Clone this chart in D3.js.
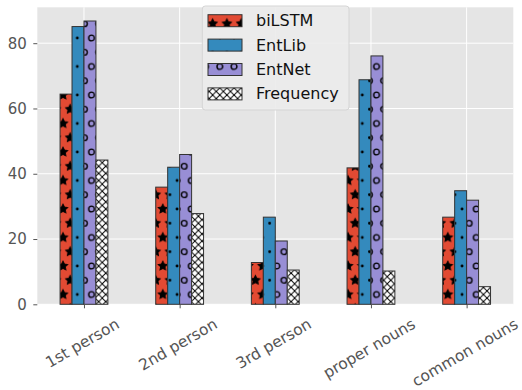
<!DOCTYPE html>
<html><head><meta charset="utf-8">
<script src="https://cdn.jsdelivr.net/npm/d3@7/dist/d3.min.js"></script>
<style>body{margin:0;background:#fff}svg{display:block}</style>
</head><body>
<svg id="c" width="522" height="390"></svg>
<script>
const categories = ["1st person", "2nd person", "3rd person", "proper nouns", "common nouns"];
const seriesNames = ["biLSTM", "EntLib", "EntNet", "Frequency"];
const biLSTM    = [64.4, 35.9, 12.8, 41.8, 26.7];
const EntLib    = [85.1, 42.0, 26.7, 68.8, 34.8];
const EntNet    = [86.8, 45.9, 19.4, 76.1, 31.9];
const Frequency = [44.2, 27.8, 10.5, 10.2, 5.4];
const yTicks = [0, 20, 40, 60, 80];

const seriesValues = [biLSTM, EntLib, EntNet, Frequency];
const colors = ["#E24A33", "#348ABD", "#988ED5", "#FFFFFF"];
const hatchIds = ["hStar", "hDot", "hCirc", "hCross"];

const svg = d3.select("#c");
const L = 37.3, R = 513.3, T = 7.3, B = 304.3;
const x = d3.scaleLinear().domain([-0.488, 4.488]).range([L, R]);
const y = d3.scaleLinear().domain([0, 91.0]).range([B, T]);
const bw = 0.125;

// hatch patterns
const defs = svg.append("defs");
const s = 14.25, ox = 77.3, oy = 95;
const gridPts = [[0,0],[s,0],[0,2*s],[s,2*s],[s/2,s]];
function starPath(cx, cy, ro, ri) {
  let p = [];
  for (let k = 0; k < 10; k++) {
    const a = -Math.PI/2 + k*Math.PI/5;
    const r = k % 2 === 0 ? ro : ri;
    p.push([cx + r*Math.cos(a), cy + r*Math.sin(a)]);
  }
  return "M" + p.map(d => d.join(",")).join("L") + "Z";
}
function shapePattern(id, drawFn) {
  const pat = defs.append("pattern").attr("id", id)
    .attr("patternUnits", "userSpaceOnUse")
    .attr("x", ox).attr("y", oy).attr("width", s).attr("height", 2*s);
  gridPts.forEach(([px, py]) => drawFn(pat, px, py));
}
shapePattern("hStar", (g, px, py) => g.append("path").attr("d", starPath(px, py, s/3, s/6))
  .attr("fill", "#000").attr("stroke", "#000").attr("stroke-width", 1));
shapePattern("hDot", (g, px, py) => g.append("circle").attr("cx", px).attr("cy", py).attr("r", s*0.1)
  .attr("fill", "#000"));
shapePattern("hCirc", (g, px, py) => g.append("circle").attr("cx", px).attr("cy", py).attr("r", s*0.2)
  .attr("fill", "none").attr("stroke", "#000").attr("stroke-width", 1.4));
{
  const c = s/2;
  const pat = defs.append("pattern").attr("id", "hCross")
    .attr("patternUnits", "userSpaceOnUse")
    .attr("x", ox).attr("y", oy).attr("width", c).attr("height", c);
  [[-1,-1,c+1,c+1],[c+1,-1,-1,c+1]].forEach(l => pat.append("line")
    .attr("x1", l[0]).attr("y1", l[1]).attr("x2", l[2]).attr("y2", l[3])
    .attr("stroke", "#000").attr("stroke-width", 1));
}

// background
svg.append("rect").attr("x", L).attr("y", T).attr("width", R-L).attr("height", B-T).attr("fill", "#E5E5E5");

// grid
svg.append("g").selectAll("line").data(yTicks).join("line")
  .attr("x1", L).attr("x2", R).attr("y1", d => y(d)).attr("y2", d => y(d))
  .attr("stroke", "#fff").attr("stroke-width", 1);
svg.append("g").selectAll("line").data(categories).join("line")
  .attr("x1", (d,i) => x(i)).attr("x2", (d,i) => x(i)).attr("y1", T).attr("y2", B)
  .attr("stroke", "#fff").attr("stroke-width", 1);

// bars
seriesValues.forEach((vals, j) => {
  const g = svg.append("g");
  const rx = (d,i) => x(i + (j-2)*bw);
  const rw = x(bw) - x(0);
  g.selectAll("rect.f").data(vals).join("rect").attr("class","f")
    .attr("x", rx).attr("width", rw).attr("y", d => y(d)).attr("height", d => y(0) - y(d))
    .attr("fill", colors[j]);
  g.selectAll("rect.h").data(vals).join("rect").attr("class","h")
    .attr("x", rx).attr("width", rw).attr("y", d => y(d)).attr("height", d => y(0) - y(d))
    .attr("fill", `url(#${hatchIds[j]})`).attr("stroke", "#333").attr("stroke-width", 1);
});

// y axis
const yAxis = d3.axisLeft(y).tickValues(yTicks).tickSize(4).tickPadding(6.5);
const ya = svg.append("g").attr("transform", `translate(${L},0)`).call(yAxis);
ya.select(".domain").remove();
ya.selectAll("line").attr("stroke", "#555");
ya.selectAll("text").attr("fill", "#555").style("font-family", "DejaVu Sans").style("font-size", "15px");

// x axis
const xAxis = d3.axisBottom(x).tickValues(d3.range(categories.length)).tickSize(4).tickFormat("");
const xa = svg.append("g").attr("transform", `translate(0,${B})`).call(xAxis);
xa.select(".domain").remove();
xa.selectAll("line").attr("stroke", "#555");
const fs = 15.5;
categories.forEach((c, i) => {
  const t = svg.append("text").text(c)
    .attr("fill", "#555").style("font-family", "DejaVu Sans").style("font-size", fs + "px")
    .attr("text-anchor", "middle").attr("dominant-baseline", "central");
  const W = t.node().getComputedTextLength();
  const H = fs * 0.95;
  const cy = 316.5 + (W*0.5 + H*0.866)/2;
  t.attr("transform", `translate(${x(i) - 1.5},${cy}) rotate(-30)`);
});

// legend
const lg = svg.append("g");
lg.append("rect").attr("x", 202.3).attr("y", 6).attr("width", 146.7).attr("height", 104)
  .attr("rx", 3).attr("fill", "#EBEBEB").attr("fill-opacity", 0.9).attr("stroke", "#D5D5D5").attr("stroke-width", 1);
seriesNames.forEach((n, j) => {
  const cy = 20.7 + j*24.4;
  lg.append("rect").attr("x", 208).attr("y", cy-6).attr("width", 34).attr("height", 12).attr("fill", colors[j]);
  lg.append("rect").attr("x", 208).attr("y", cy-6).attr("width", 34).attr("height", 12)
    .attr("fill", `url(#${hatchIds[j]})`).attr("stroke", "#333").attr("stroke-width", 1);
  lg.append("text").text(n).attr("x", 256).attr("y", cy).attr("dominant-baseline", "central")
    .attr("fill", "#111").style("font-family", "DejaVu Sans").style("font-size", "16px");
});
</script>
</body></html>
